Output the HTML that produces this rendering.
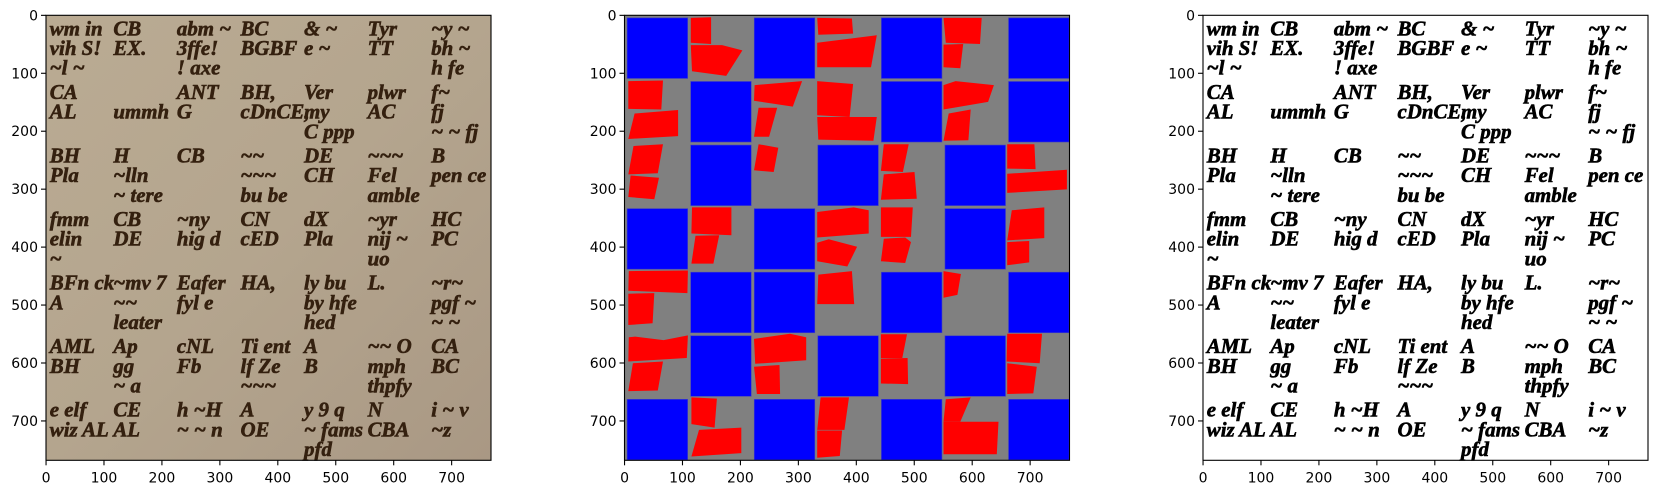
<!DOCTYPE html>
<html><head><meta charset="utf-8">
<style>
html,body{margin:0;padding:0;background:#fff;}
body{width:1656px;height:493px;overflow:hidden;position:relative;font-family:"DejaVu Sans","Liberation Sans",sans-serif;}
svg{position:absolute;left:0;top:0;}
</style></head>
<body>
<svg id="fig" width="1656" height="493" viewBox="0 0 1656 493" xmlns="http://www.w3.org/2000/svg"></svg>
<script>
// ---- data ----
const panelLefts = [46, 624.5, 1203];
const tickValues = [0, 100, 200, 300, 400, 500, 600, 700];
const tickLabels = ["0", "100", "200", "300", "400", "500", "600", "700"];
const imageSize = 768;
const gridN = 7;
// blue (tile) cells per row, by column index
const blueRows = [
  [0,2,4,6],
  [1,4,6],
  [1,3,5],
  [0,2,5],
  [1,2,4,6],
  [1,3,5],
  [0,2,4,6]
];
// red polygons, in image (data) coordinates
const redPolys = [
  [[114,4],[149,3],[149,49],[114,47]],
  [[114,51],[168,51],[203,60],[175,104],[116,96]],
  [[332,4],[392,5],[394,31],[334,33]],
  [[332,47],[435,34],[425,89],[332,89]],
  [[550,4],[616,4],[613,49],[554,47]],
  [[550,50],[584,49],[579,91],[550,89]],
  [[6,113],[66,112],[63,162],[6,161]],
  [[17,169],[92,163],[92,208],[6,213]],
  [[224,120],[306,113],[290,157],[223,147]],
  [[231,159],[263,159],[249,209],[223,209]],
  [[332,113],[394,118],[388,175],[332,172]],
  [[332,175],[435,175],[429,216],[334,214]],
  [[550,120],[571,113],[637,120],[627,149],[550,162]],
  [[559,169],[597,162],[593,215],[550,216]],
  [[15,225],[66,222],[57,272],[6,274]],
  [[10,276],[59,280],[51,317],[6,313]],
  [[231,222],[265,228],[257,270],[223,267]],
  [[447,222],[490,222],[480,270],[442,268]],
  [[447,274],[500,270],[504,316],[442,318]],
  [[660,222],[707,222],[709,265],[660,264]],
  [[660,273],[763,266],[763,300],[660,306]],
  [[116,331],[184,331],[184,379],[115,376]],
  [[122,380],[163,379],[153,428],[115,428]],
  [[332,339],[395,331],[421,336],[421,376],[332,383]],
  [[352,386],[401,399],[384,433],[332,424],[332,392]],
  [[442,331],[497,331],[494,382],[442,382]],
  [[447,385],[484,383],[494,391],[484,427],[442,424]],
  [[668,336],[724,331],[724,384],[660,388]],
  [[660,391],[698,389],[698,426],[660,431]],
  [[7,441],[109,440],[108,479],[6,475]],
  [[6,480],[51,479],[48,531],[6,534]],
  [[334,447],[392,441],[396,498],[332,498]],
  [[550,441],[580,446],[574,482],[550,487]],
  [[7,555],[18,554],[67,560],[109,552],[107,591],[6,597]],
  [[14,600],[66,597],[57,647],[6,648]],
  [[223,558],[285,549],[313,555],[313,595],[225,601]],
  [[223,606],[267,603],[268,653],[228,653]],
  [[442,550],[487,550],[479,591],[442,591]],
  [[442,592],[488,591],[489,636],[442,635]],
  [[660,549],[720,549],[716,600],[659,597]],
  [[660,600],[711,606],[705,652],[660,653]],
  [[115,659],[159,661],[155,711],[115,705]],
  [[128,715],[201,711],[201,755],[115,761]],
  [[338,659],[387,659],[379,715],[332,715]],
  [[332,716],[375,716],[371,760],[332,763]],
  [[554,662],[597,659],[579,701],[550,701]],
  [[550,701],[645,701],[642,757],[550,757]]
];
// handwritten snippets per cell (rows of 7)
const cellTexts = [
  ["wm in/vih S!/~l ~","CB/EX.","abm ~/3ffe!/! axe","BC/BGBF","& ~/e  ~","Tyr/TT","~y ~/bh ~/h fe"],
  ["CA/AL","/ummh","ANT/G","BH,/cDnCE,","Ver/my/C ppp","plwr/AC","f~/fj/~ ~ fj"],
  ["BH/Pla","H/~lln/~ tere","CB","~~/~~~/bu be","DE/CH","~~~/Fel/amble","B/pen ce"],
  ["fmm/elin/~ /","CB/DE","~ny/hig d","CN/cED","dX/Pla","~yr/nij ~/uo /","HC/PC"],
  ["BFn ck/A","~mv 7/~~/leater","Eafer/fyl e","HA,","ly bu/by hfe/ hed","L.","~r~/pgf ~/~ ~"],
  ["AML/BH","Ap/gg/~ a","cNL/Fb","Ti ent/lf Ze/~~~","A/B","~~ O/mph/thpfy","CA/BC"],
  ["e elf/wiz AL","CE/AL","h ~H/~ ~ n","A/OE","y 9 q/~ fams/pfd","N/CBA","i ~ v/~z"]
];

// ---- drawing ----
const NS = "http://www.w3.org/2000/svg";
const fig = document.getElementById("fig");
const AX = 445, TOP = 15.3;
function el(tag, attrs, parent){ const e=document.createElementNS(NS,tag); for(const k in attrs) e.setAttribute(k,attrs[k]); (parent||fig).appendChild(e); return e; }
function sx(p,d){ return panelLefts[p] + (d+0.5)*AX/imageSize; }
function sy(d){ return TOP + (d+0.5)*AX/imageSize; }
const cell = imageSize/gridN;
const panelNames = ["original-image-panel","mask-panel","binarized-image-panel"];

for (let p=0;p<3;p++){
  const g = el("g",{});
  
  
  const L = panelLefts[p];
  let bg;
  if (p===0){
    const defs = el("defs",{},g);
    const lg = el("linearGradient",{id:"paper",x1:"0",y1:"0",x2:"1",y2:"1"},defs);
    el("stop",{offset:"0","stop-color":"#baab93"},lg);
    el("stop",{offset:"0.5","stop-color":"#b4a58e"},lg);
    el("stop",{offset:"1","stop-color":"#a99884"},lg);
    bg = el("rect",{x:L,y:TOP,width:AX,height:AX,fill:"url(#paper)"},g);
  } else if (p===1){
    bg = el("rect",{x:L,y:TOP,width:AX,height:AX,fill:"#808080"},g);
  } else {
    bg = el("rect",{x:L,y:TOP,width:AX,height:AX,fill:"#ffffff"},g);
  }
  
  

  if (p===1){
    blueRows.forEach((cols,r)=>{
      cols.forEach(c=>{
        const x0=c*cell+4, y0=r*cell+4, x1=c*cell+108.5, y1=r*cell+108.5;
        const rc = el("rect",{x:sx(1,x0),y:sy(y0),width:sx(1,x1)-sx(1,x0),height:sy(y1)-sy(y0),fill:"#0000ff",stroke:"#4040c0","stroke-width":"0.6"},g);
        
        
      });
    });
    redPolys.forEach(poly=>{
      const pts = poly.map(q=>sx(1,q[0]).toFixed(1)+","+sy(q[1]).toFixed(1)).join(" ");
      const pg = el("polygon",{points:pts,fill:"#ff0000"},g);
      
      
    });
  } else {
    const col = p===0 ? "#34200f" : "#000000";
    const fs = 36*AX/imageSize;
    cellTexts.forEach((row,r)=>{
      row.forEach((txt,c)=>{
        txt.split("/").forEach((line,i)=>{
          const t = el("text",{x:sx(p,c*cell+6),y:sy(r*cell+34+i*34),"font-family":"Liberation Serif, serif","font-style":"italic","font-weight":"bold","font-size":fs.toFixed(1),fill:col,stroke:col,"stroke-width":"0.6"},g);
          t.textContent = line;
          
          
        });
      });
    });
  }
  const fr = el("rect",{x:L,y:TOP,width:AX,height:AX,fill:"none",stroke:"#000","stroke-width":"1.1"},g);
  
  
  tickValues.forEach((v,i)=>{
    const x = sx(p,v)-0.25, y = sy(v)-0.25;
    const xt = el("line",{x1:x,y1:TOP+AX,x2:x,y2:TOP+AX+5,stroke:"#000","stroke-width":"1.1"},g);
    
    
    const xl = el("text",{x:x,y:TOP+AX+22,"text-anchor":"middle","font-size":"14","font-family":"DejaVu Sans, sans-serif",fill:"#000"},g);
    xl.textContent = tickLabels[i];
    
    
    const yt = el("line",{x1:L-5,y1:y,x2:L,y2:y,stroke:"#000","stroke-width":"1.1"},g);
    
    
    const yl = el("text",{x:L-8,y:y+5,"text-anchor":"end","font-size":"14","font-family":"DejaVu Sans, sans-serif",fill:"#000"},g);
    yl.textContent = tickLabels[i];
    
    
  });
}
</script>
</body></html>
